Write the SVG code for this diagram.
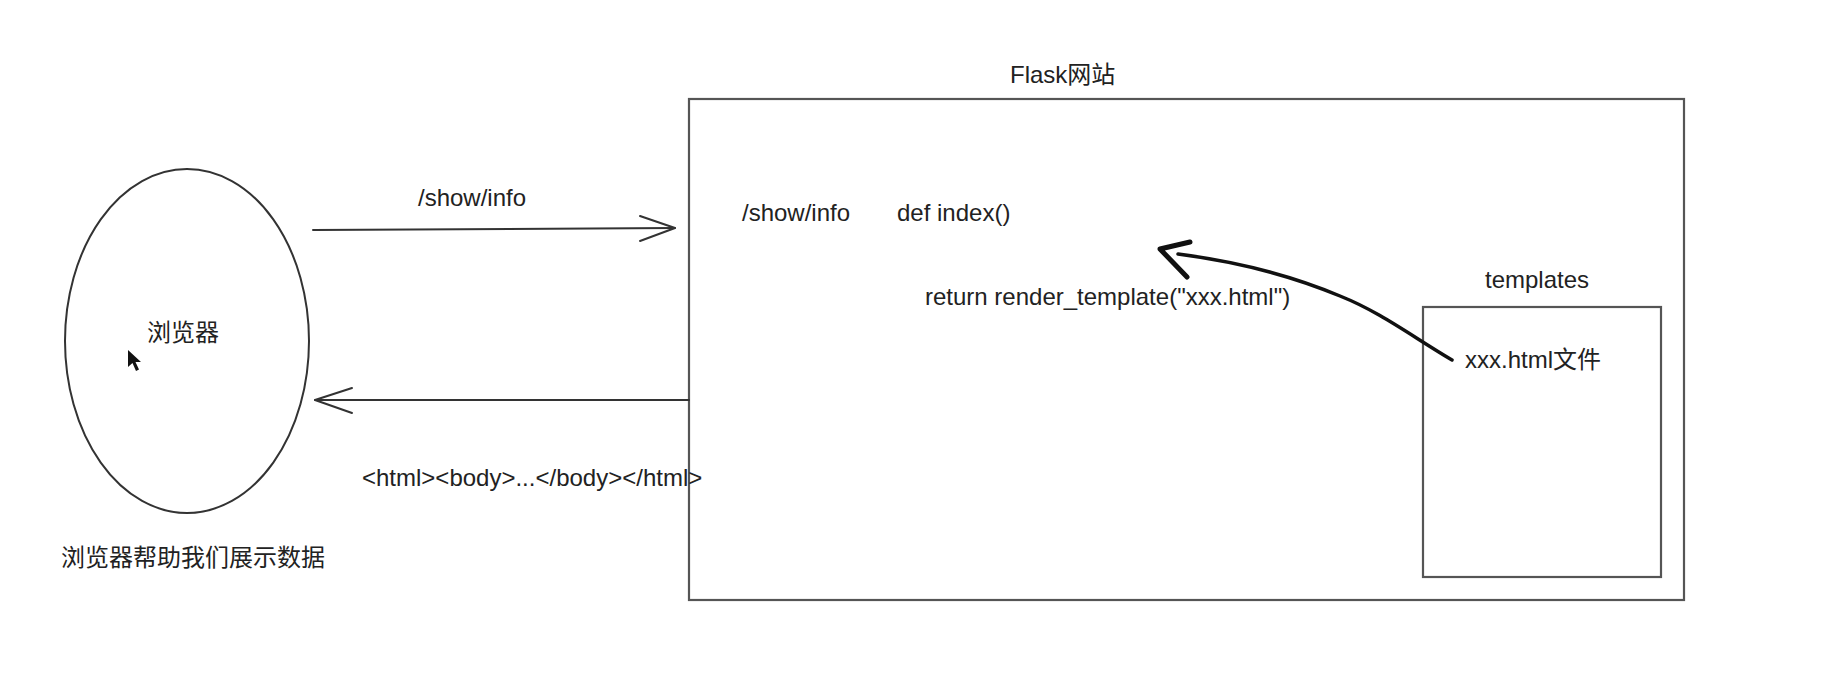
<svg xmlns="http://www.w3.org/2000/svg" width="1846" height="679" viewBox="0 0 1846 679">
<style>
.t{font-family:"Liberation Sans","Noto Sans CJK SC",Arial,sans-serif;font-size:24px;fill:#222}
.s{fill:none;stroke:#333;stroke-width:2;stroke-linecap:round;stroke-linejoin:round}
.f{fill:none;stroke:#555;stroke-width:2.2}
</style>
<rect width="1846" height="679" fill="#fff"/>
<g id="browser">
<ellipse cx="187" cy="341" rx="122" ry="172" class="s"/>
<text class="t" x="147" y="341">浏览器</text>
<path d="M128,350 L128,367 L132.5,363 L136,371 L139,369.5 L135.5,362 L141,362 Z" fill="#111"/>
</g>
<g id="browser-caption">
<text class="t" x="61" y="566">浏览器帮助我们展示数据</text>
</g>
<g id="flask">
<rect x="689" y="99" width="995" height="501" class="f"/>
<text class="t" x="1010" y="83">Flask网站</text>
<text class="t" x="742" y="221">/show/info</text>
<text class="t" x="897" y="221">def index()</text>
<text class="t" x="925" y="305">return render_template("xxx.html")</text>
</g>
<g id="templates">
<rect x="1423" y="307" width="238" height="270" class="f"/>
<text class="t" x="1485" y="288">templates</text>
<text class="t" x="1465" y="368">xxx.html文件</text>
</g>
<g id="connectors">
<g id="request">
<path d="M313,230 L675,228" class="s"/>
<path d="M640,216 L675,228 L640,241" class="s"/>
<text class="t" x="418" y="206">/show/info</text>
</g>
<g id="response">
<path d="M689,400 L315,400" class="s"/>
<path d="M352,388 L315,400 L352,413" class="s"/>
<text class="t" x="362" y="486">&lt;html&gt;&lt;body&gt;...&lt;/body&gt;&lt;/html&gt;</text>
</g>
<g id="render">
<path d="M1452,360 C1410,335 1380,312 1340,296 C1290,275 1240,262 1178,254" fill="none" stroke="#111" stroke-width="3.5" stroke-linecap="round"/>
<path d="M1190,242 L1160,249 L1187,277" fill="none" stroke="#111" stroke-width="5" stroke-linecap="round" stroke-linejoin="round"/>
</g>
</g>
</svg>
